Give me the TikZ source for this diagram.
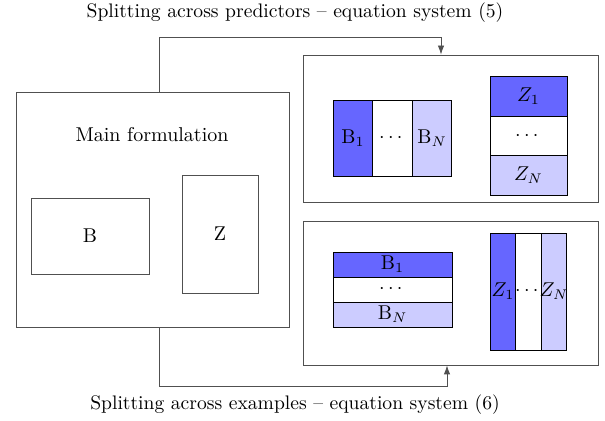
\documentclass[tikz,border=0pt]{standalone}
\usepackage{amsmath}
\usetikzlibrary{calc, arrows.meta}

\definecolor{celldark}{RGB}{102,102,255}
\definecolor{celllight}{RGB}{204,204,255}
\definecolor{boxline}{RGB}{80,80,80}

\tikzset{
  outerbox/.style={draw=boxline, inner sep=0pt, minimum width=#1},
  cell/.style={draw=black, inner sep=0pt, font=\normalsize},
  caption/.style={font=\fontsize{9.8}{12}\selectfont},
}

\begin{document}
\begin{tikzpicture}[x=0.5pt, y=-0.5pt, >={Latex[length=4.5pt, width=3.2pt]}]
        \useasboundingbox (0,0) rectangle (605,421);

        % Main formulation
        \node[outerbox=136.5pt, minimum height=117.5pt] (main) at (152.5,209.5) {};
        \node (mainlbl) at (152,135) {Main formulation};
        \node[cell, draw=boxline, minimum width=59pt, minimum height=38pt] (mB) at (90,236) {B};
        \node[cell, draw=boxline, minimum width=38pt, minimum height=59pt] (mZ) at (220,234) {Z};

        % Splitting across predictors
        \node[outerbox=147.5pt, minimum height=73.5pt] (top) at (450.5,128.5) {};
        \node[cell, fill=celldark, minimum width=19.83pt, minimum height=38pt] (tB1) at (353,138) {B$_1$};
        \node[cell, minimum width=19.83pt, minimum height=38pt] (tBd) at (392.5,138) {$\cdots$};
        \node[cell, fill=celllight, minimum width=19.83pt, minimum height=38pt] (tBN) at (432,138) {B$_N$};
        \node[cell, fill=celldark, minimum width=38.5pt, minimum height=19.67pt] (tZ1) at (528.5,96.5) {$Z_1$};
        \node[cell, minimum width=38.5pt, minimum height=19.67pt] (tZd) at (528.5,136) {$\cdots$};
        \node[cell, fill=celllight, minimum width=38.5pt, minimum height=19.67pt] (tZN) at (528.5,175.5) {$Z_N$};

        % Splitting across examples
        \node[outerbox=147.5pt, minimum height=72pt] (bot) at (450.5,293) {};
        \node[cell, fill=celldark, minimum width=59.5pt, minimum height=12.5pt] (bB1) at (392.5,264.5) {B$_1$};
        \node[cell, minimum width=59.5pt, minimum height=12.5pt] (bBd) at (392.5,289.5) {$\cdots$};
        \node[cell, fill=celllight, minimum width=59.5pt, minimum height=12.5pt] (bBN) at (392.5,314.5) {B$_N$};
        \node[cell, fill=celldark, minimum width=12.83pt, minimum height=58.5pt] (bZ1) at (503,291.5) {};
        \node[cell, minimum width=12.83pt, minimum height=58.5pt] (bZd) at (528.5,291.5) {};
        \node[cell, fill=celllight, minimum width=12.83pt, minimum height=58.5pt] (bZN) at (554,291.5) {};
        \node[inner sep=0pt] (bZ1lbl) at (bZ1) {$Z_1$};
        \node[inner sep=0pt] (bZdlbl) at (bZd) {$\cdots$};
        \node[inner sep=0pt] (bZNlbl) at (bZN) {$Z_N$};

        % Connectors and captions
        \coordinate (upL) at (159,37);
        \coordinate (upR) at (441,37);
        \coordinate (dnL) at (159,386);
        \coordinate (dnR) at (447,386);
        \draw[->, boxline] (main.north -| upL) -- (upL) -- (upR) -- (upR |- top.north);
        \draw[->, boxline] (main.south -| dnL) -- (dnL) -- (dnR) -- (dnR |- bot.south);
        \node[caption] (toplbl) at (295,13) {Splitting across predictors -- equation system (5)};
        \node[caption] (botlbl) at (295,405) {Splitting across examples -- equation system (6)};
    \end{tikzpicture}
\end{document}
